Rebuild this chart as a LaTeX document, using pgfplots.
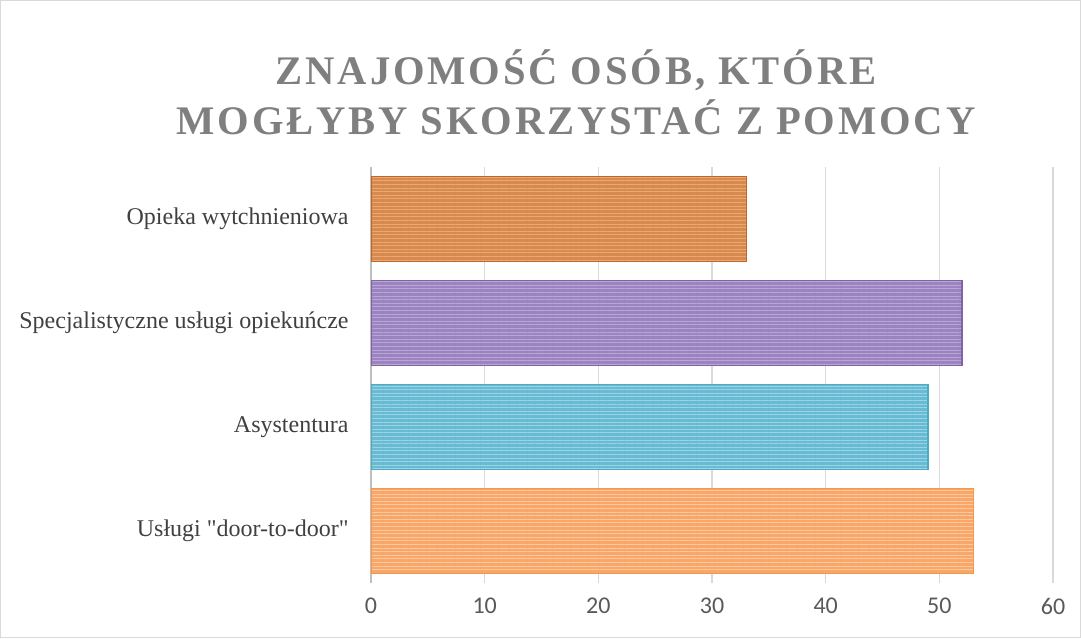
\documentclass[border=0pt]{standalone}
\usepackage{fontspec}
\setmainfont{Liberation Serif}
\newfontfamily\titlefont[LetterSpace=7]{Liberation Serif}
\newfontfamily\numfont{Carlito}
\usepackage{pgfplots}
\pgfplotsset{compat=1.18}
\usetikzlibrary{patterns.meta}
\definecolor{titlegray}{HTML}{7F7F7F}
\definecolor{labgray}{HTML}{404040}
\definecolor{tickgray}{HTML}{595959}
\definecolor{gridc}{HTML}{D9D9D9}
\definecolor{axc}{HTML}{BFBFBF}
\definecolor{doF}{HTML}{D8894C}\definecolor{doL}{HTML}{E9AA78}\definecolor{doB}{HTML}{C0662A}
\definecolor{puF}{HTML}{9C84C2}\definecolor{puL}{HTML}{B9A8D6}\definecolor{puB}{HTML}{8064A2}
\definecolor{blF}{HTML}{67BBD2}\definecolor{blL}{HTML}{9DD3E2}\definecolor{blB}{HTML}{4BACC6}
\definecolor{loF}{HTML}{F9A768}\definecolor{loL}{HTML}{FCC9A0}\definecolor{loB}{HTML}{F79646}
\begin{document}
\begin{tikzpicture}
\useasboundingbox (0,0) rectangle (540.5pt,319pt);
\draw[draw=gridc, line width=0.6pt] (0.3pt,0.3pt) rectangle (540.2pt,318.7pt);
\node[font=\titlefont\bfseries\fontsize{20.3}{24}\selectfont, text=titlegray, anchor=base] at (288pt,276.5pt) {ZNAJOMOŚĆ OSÓB, KTÓRE};
\node[font=\titlefont\bfseries\fontsize{20.3}{24}\selectfont, text=titlegray, anchor=base] at (288pt,251.5pt) {MOGŁYBY SKORZYSTAĆ Z POMOCY};
\begin{axis}[
  at={(185.5pt,27.5pt)}, anchor=south west,
  scale only axis, width=341pt, height=208pt,
  xbar, bar width=42.5pt,
  xmin=0, xmax=60, ymin=-0.5, ymax=3.5,
  xtick={0,10,20,30,40,50,60},
  ytick={0,1,2,3},
  yticklabels={Usługi \textquotedbl door-to-door\textquotedbl, Asystentura, Specjalistyczne usługi opiekuńcze, Opieka wytchnieniowa},
  xmajorgrids, major grid style={draw=gridc, line width=0.6pt},
  axis y line*=left, axis x line*=bottom,
  x axis line style={draw=none},
  y axis line style={draw=axc, line width=1.2pt, -},
  major tick length=0pt,
  /pgf/number format/assume math mode=true,
  xticklabel style={font=\numfont\fontsize{12}{14}\selectfont, text=tickgray, inner sep=0pt, yshift=-7.5pt, anchor=north},
  yticklabel style={font=\fontsize{12}{14}\selectfont, text=labgray, inner sep=0pt, xshift=-11pt, anchor=east},
]
\addplot[bar shift=0pt, fill=loF, draw=loB, line width=0.6pt, postaction={pattern={Lines[angle=0,distance=1.8pt,line width=0.5pt]}, pattern color=loL}] coordinates {(53,0)};
\addplot[bar shift=0pt, fill=blF, draw=blB, line width=0.6pt, postaction={pattern={Lines[angle=0,distance=1.8pt,line width=0.5pt]}, pattern color=blL}] coordinates {(49,1)};
\addplot[bar shift=0pt, fill=puF, draw=puB, line width=0.6pt, postaction={pattern={Lines[angle=0,distance=1.8pt,line width=0.5pt]}, pattern color=puL}] coordinates {(52,2)};
\addplot[bar shift=0pt, fill=doF, draw=doB, line width=0.6pt, postaction={pattern={Lines[angle=0,distance=1.8pt,line width=0.5pt]}, pattern color=doL}] coordinates {(33,3)};
\end{axis}
\end{tikzpicture}
\end{document}
